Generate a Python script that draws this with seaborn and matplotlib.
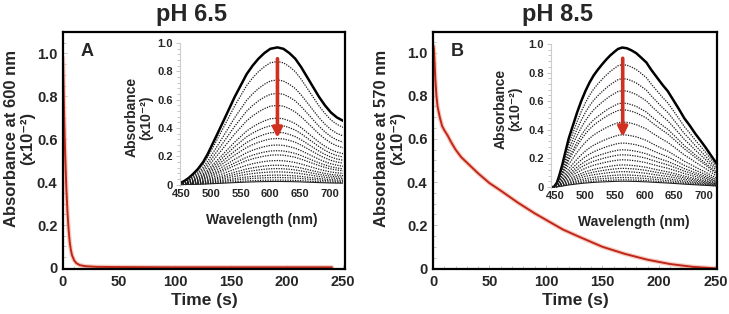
import matplotlib
matplotlib.use("Agg")
import matplotlib.pyplot as plt
import numpy as np
import seaborn as sns
from matplotlib.ticker import AutoMinorLocator

# ---- kinetic traces (main panels) ----
time_a = [0, 0.5, 1, 1.5, 2, 3, 4, 5, 6, 7, 8, 10, 12, 15, 20, 30, 50, 100, 150, 200, 240]
abs_a = [0.98, 0.85, 0.72, 0.61, 0.52, 0.37, 0.26, 0.18, 0.12, 0.085, 0.06, 0.035,
         0.022, 0.013, 0.008, 0.005, 0.004, 0.003, 0.003, 0.003, 0.003]

time_b = [0.5, 1, 2, 3, 4, 6, 8, 10, 13, 16, 20, 25, 30, 40, 50, 60, 75, 90, 100,
          115, 130, 150, 170, 190, 210, 230, 250]
abs_b = [1.03, 1.0, 0.88, 0.80, 0.75, 0.70, 0.66, 0.64, 0.615, 0.585, 0.55, 0.515,
         0.49, 0.44, 0.395, 0.36, 0.305, 0.255, 0.225, 0.18, 0.145, 0.10, 0.067,
         0.04, 0.02, 0.007, 0.0]

# ---- spectra (insets): first spectrum + peak heights of the later ones ----
wl_a = [448, 455, 462, 470, 478, 487, 495, 503, 511, 520, 530, 540, 550, 560, 570,
        580, 590, 600, 612, 622, 632, 642, 652, 662, 672, 682, 692, 702, 712, 723]
spec0_a = [0.01, 0.025, 0.045, 0.075, 0.11, 0.16, 0.22, 0.29, 0.36, 0.44, 0.53,
           0.62, 0.70, 0.78, 0.84, 0.89, 0.93, 0.96, 0.97, 0.96, 0.93, 0.89, 0.83,
           0.76, 0.69, 0.62, 0.56, 0.51, 0.475, 0.45]
peaks_a = [0.87, 0.74, 0.645, 0.56, 0.47, 0.42, 0.37, 0.326, 0.28, 0.24, 0.21, 0.17,
           0.137, 0.113, 0.09, 0.067, 0.05, 0.032]
last_a = 0.022

wl_b = [442, 447, 452, 456, 461, 466, 472, 479, 486, 493, 500, 507, 514, 521, 528,
        535, 542, 549, 555, 562, 570, 578, 586, 594, 603, 611, 620, 630, 639, 648,
        657, 667, 676, 685, 695, 703, 712, 722]
spec0_b = [0.0, 0.0, 0.03, 0.08, 0.154, 0.24, 0.34, 0.43, 0.52, 0.60, 0.67, 0.73,
           0.78, 0.82, 0.856, 0.89, 0.92, 0.945, 0.965, 0.975, 0.97, 0.955, 0.935,
           0.905, 0.87, 0.82, 0.77, 0.715, 0.67, 0.61, 0.55, 0.48, 0.43, 0.375,
           0.32, 0.275, 0.22, 0.16]
peaks_b = [0.856, 0.758, 0.674, 0.587, 0.54, 0.454, 0.365, 0.307, 0.26, 0.225, 0.19,
           0.154, 0.13, 0.107, 0.084, 0.066, 0.05]
last_b = 0.04

yticks = [0, 0.2, 0.4, 0.6, 0.8, 1.0]
ytick_labels = ["0", "0.2", "0.4", "0.6", "0.8", "1.0"]
xticks = [0, 50, 100, 150, 200, 250]
wl_ticks = [450, 500, 550, 600, 650, 700]

sns.set_theme(style="white")
plt.rcParams["font.family"] = ["Liberation Sans", "DejaVu Sans"]
plt.rcParams["font.weight"] = "bold"

fig = plt.figure(figsize=(7.29, 3.14), dpi=100)

RED = "#c0261a"
ARROW = "#d03020"
SUP = "(x10\u207b\u00b2)"


def main_panel(rect, t, a, ylabel, letter, ylim):
    ax = fig.add_axes(rect)
    sns.lineplot(x=t, y=a, ax=ax, color="#f2b8a8", lw=3.2, alpha=0.7)
    sns.lineplot(x=t, y=a, ax=ax, color=RED, lw=1.4)
    ax.set_xlim(0, 251.5)
    ax.set_ylim(*ylim)
    ax.set_xticks(xticks)
    ax.set_xticklabels([str(v) for v in xticks], fontsize=10.5, fontweight="bold")
    ax.set_yticks(yticks)
    ax.set_yticklabels(ytick_labels, fontsize=10.5, fontweight="bold")
    ax.xaxis.set_minor_locator(AutoMinorLocator(5))
    ax.yaxis.set_minor_locator(AutoMinorLocator(4))
    ax.tick_params(which="both", direction="in", color="#bbbbbb", length=3,
                   width=0.6, left=True, bottom=True, pad=4)
    ax.tick_params(which="minor", length=2)
    for s in ax.spines.values():
        s.set_color("black")
        s.set_linewidth(1.6)
    ax.set_xlabel("Time (s)", fontsize=12.5, fontweight="bold", labelpad=3)
    ax.set_ylabel(ylabel, fontsize=12, fontweight="bold", linespacing=1.05)
    ax.yaxis.set_label_coords(-0.1, 0.55)
    ax.text(0.085, 0.955, letter, transform=ax.transAxes, fontsize=13,
            fontweight="bold", ha="center", va="top")
    return ax


def inset_panel(rect, wl, spec0, peaks, last, xlim, peak_wl, arrow_y, lab_xy):
    ax = fig.add_axes(rect)
    ax.patch.set_alpha(0)
    spec0 = np.array(spec0)
    top = spec0.max()
    sns.lineplot(x=wl, y=spec0, ax=ax, color="black", lw=1.8)
    for p in peaks:
        sns.lineplot(x=wl, y=spec0 * p / top, ax=ax, color="#1a1a1a", lw=0.9,
                     linestyle=(0, (1, 1)))
    sns.lineplot(x=wl, y=spec0 * last / top, ax=ax, color="#222222", lw=0.8)
    ax.annotate("", xy=(peak_wl, arrow_y[1]), xytext=(peak_wl, arrow_y[0]),
                arrowprops=dict(arrowstyle="-|>", color=ARROW, lw=2.6,
                                mutation_scale=14, shrinkA=0, shrinkB=0))
    ax.set_xlim(*xlim)
    ax.set_ylim(-0.01, 1.0)
    ax.set_xticks(wl_ticks)
    ax.set_xticklabels([str(v) for v in wl_ticks], fontsize=8, fontweight="bold")
    ax.set_yticks(yticks)
    ax.set_yticklabels(ytick_labels, fontsize=8, fontweight="bold")
    ax.yaxis.set_minor_locator(AutoMinorLocator(5))
    ax.tick_params(axis="y", which="both", direction="out", color="#bbbbbb",
                   length=3, width=0.6, left=True, pad=2)
    ax.tick_params(axis="y", which="minor", length=2)
    ax.tick_params(axis="x", length=0, pad=2)
    for side in ["top", "right", "bottom"]:
        ax.spines[side].set_visible(False)
    ax.spines["left"].set_color("#cccccc")
    ax.spines["left"].set_linewidth(0.8)
    ax.set_xlabel("Wavelength (nm)", fontsize=10, fontweight="bold", labelpad=10)
    ax.set_ylabel("Absorbance\n" + SUP, fontsize=10, fontweight="bold",
                  linespacing=1.05)
    ax.yaxis.set_label_coords(*lab_xy)
    return ax


main_panel([0.0864, 0.1433, 0.3866, 0.7547], time_a, abs_a,
           "Absorbance at 600 nm\n" + SUP, "A", (-0.005, 1.1))
main_panel([0.594, 0.1433, 0.3895, 0.7547], time_b, abs_b,
           "Absorbance at 570 nm\n" + SUP, "B", (-0.003, 1.095))

inset_panel([0.247, 0.4076, 0.224, 0.455], wl_a, spec0_a, peaks_a, last_a,
            (448, 723), 612, (0.89, 0.33), (-0.165, 0.48))
inset_panel([0.7558, 0.400, 0.2277, 0.460], wl_b, spec0_b, peaks_b, last_b,
            (442, 722), 563, (0.90, 0.35), (-0.175, 0.55))

fig.text(0.263, 0.955, "pH 6.5", fontsize=17, fontweight="bold", ha="center",
         va="center")
fig.text(0.765, 0.955, "pH 8.5", fontsize=17, fontweight="bold", ha="center",
         va="center")

fig.savefig("out.png", dpi=100)
